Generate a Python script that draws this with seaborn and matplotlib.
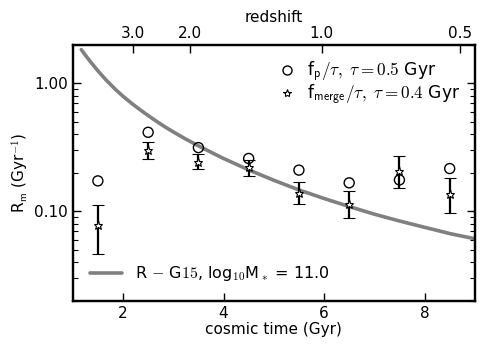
import numpy as np
import pandas as pd
import matplotlib
matplotlib.use("Agg")
import matplotlib.pyplot as plt
from matplotlib.lines import Line2D
import seaborn as sns

# ---- data ----
t_bins = [1.5, 2.5, 3.5, 4.5, 5.5, 6.5, 7.5, 8.5]
rate_fp = [0.173, 0.415, 0.315, 0.259, 0.210, 0.167, 0.176, 0.216]
rate_merge = [0.078, 0.302, 0.245, 0.224, 0.139, 0.114, 0.207, 0.137]
merge_hi = [0.112, 0.347, 0.280, 0.253, 0.169, 0.144, 0.272, 0.181]
merge_lo = [0.046, 0.257, 0.215, 0.190, 0.115, 0.089, 0.151, 0.097]

model_t = [1.17, 1.25, 1.35, 1.5, 1.67, 1.84, 2.0, 2.17, 2.33, 2.5, 2.67, 2.83, 3.0,
           3.25, 3.5, 3.75, 4.0, 4.5, 5.0, 5.5, 6.0, 6.5, 7.0, 7.5, 8.0, 8.5, 9.0]
model_r = [1.84, 1.667, 1.483, 1.256, 1.057, 0.906, 0.794, 0.700, 0.627, 0.561, 0.505,
           0.459, 0.418, 0.367, 0.325, 0.290, 0.259, 0.211, 0.175, 0.147, 0.126, 0.109,
           0.095, 0.084, 0.075, 0.067, 0.061]

z_labels = ["3.0", "2.0", "1.0", "0.5"]
z_times = [2.2, 3.33, 5.95, 8.7]
x_ticks = [2, 4, 6, 8]
y_ticks = [0.1, 1.0]

sns.set_style("ticks")
plt.rcParams["font.family"] = ["DejaVu Sans"]
plt.rcParams["mathtext.fontset"] = "cm"
for k in ["text.color", "axes.labelcolor", "xtick.color", "ytick.color", "axes.edgecolor"]:
    plt.rcParams[k] = "black"

fig = plt.figure(figsize=(4.85, 3.46), dpi=100)
ax = fig.add_axes([0.150, 0.131, 0.829, 0.739])

df_model = pd.DataFrame({"t": model_t, "r": model_r})
sns.lineplot(data=df_model, x="t", y="r", ax=ax, color="#808080", lw=2.6, legend=False)

df_fp = pd.DataFrame({"t": t_bins, "r": rate_fp})
sns.scatterplot(data=df_fp, x="t", y="r", ax=ax, marker="o", s=52,
                facecolor="none", edgecolor="black", linewidth=1.0, legend=False, zorder=4)

rm = np.array(rate_merge)
yerr = [rm - np.array(merge_lo), np.array(merge_hi) - rm]
ax.errorbar(t_bins, rate_merge, yerr=yerr, fmt="*", color="black", mfc="white",
            mec="black", ms=6.5, mew=0.8, ecolor="black", elinewidth=1.6, capsize=4.5,
            capthick=1.6, zorder=5)

ax.set_yscale("log")
ax.set_xlim(1, 9)
ax.set_ylim(0.02, 2.0)
ax.set_xticks(x_ticks)
ax.set_xticklabels([str(v) for v in x_ticks])
ax.set_yticks(y_ticks)
ax.set_yticklabels(["%.2f" % v for v in y_ticks])
ax.tick_params(axis="y", which="both", direction="in", left=True, right=True, labelsize=11)
ax.tick_params(axis="y", which="major", length=6, width=1.0)
ax.tick_params(axis="y", which="minor", length=3.5, width=0.8)
ax.tick_params(axis="x", which="major", direction="in", length=6, width=1.0, labelsize=11, top=False)
ax.tick_params(axis="x", which="minor", bottom=False, top=False)
for s in ax.spines.values():
    s.set_linewidth(1.6)
    s.set_visible(True)

ax.set_xlabel("cosmic time (Gyr)", fontsize=11, labelpad=1)
ax.set_ylabel(r"R$_\mathsf{m}$ (Gyr$^\mathsf{-1}$)", fontsize=11, labelpad=2)

ax2 = ax.twiny()
ax2.set_xlim(ax.get_xlim())
ax2.set_xticks(z_times)
ax2.set_xticklabels(z_labels)
ax2.tick_params(axis="x", direction="in", length=6, width=1.0, labelsize=11, pad=3)
ax2.set_xlabel("redshift", fontsize=11, labelpad=3)
for s in ax2.spines.values():
    s.set_linewidth(1.6)

h1 = Line2D([], [], ls="none", marker="o", mfc="none", mec="black", ms=6.5, mew=1.0)
h2 = Line2D([], [], ls="none", marker="*", mfc="white", mec="black", ms=6, mew=0.8)
leg1 = ax.legend([h1, h2],
                 [r"f$_\mathsf{p}/\tau,\ \tau=0.5$ Gyr",
                  r"f$_\mathsf{merge}/\tau,\ \tau=0.4$ Gyr"],
                 loc="upper right", frameon=False, fontsize=12.3, handletextpad=0.45,
                 borderaxespad=0.45, labelspacing=-0.12, handlelength=1.5)
ax.add_artist(leg1)
h3 = Line2D([], [], color="#808080", lw=2.6)
ax.legend([h3], [r"R$\,-\,$G$15$, log$_\mathsf{10}$M$_*$ = 11.0"], loc="lower left",
          frameon=False, fontsize=11.5, handlelength=2.0, handletextpad=0.8, borderaxespad=0.7)

fig.savefig("out.png", dpi=100)
